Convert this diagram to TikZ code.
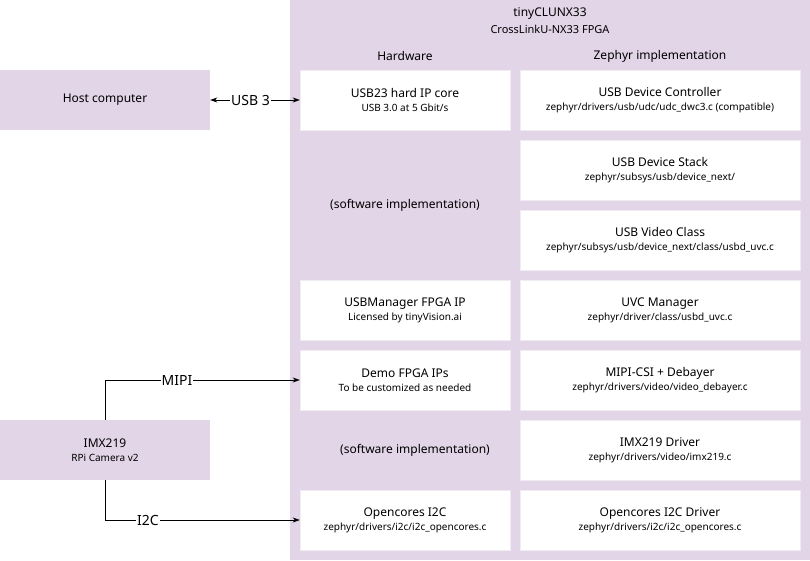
\documentclass[tikz,border=0pt]{standalone}
\usepackage{fontspec}
\setmainfont{Noto Sans}
\usepackage{tikz}
\usetikzlibrary{arrows.meta}
\definecolor{fpgaFill}{HTML}{E1D5E7}
\definecolor{boxEdge}{HTML}{F1EBF4}

\newcommand{\subline}[1]{\\[-1pt]{\fontsize{10}{12}\selectfont #1}}

\begin{document}
\begin{tikzpicture}[x=1pt,y=-1pt,
    hwbox/.style={fill=white,draw=boxEdge,minimum width=210pt,minimum height=60pt,align=center,inner sep=0pt,font=\fontsize{12}{15}\selectfont},
    swbox/.style={hwbox,minimum width=280pt},
    outbox/.style={fill=fpgaFill,minimum width=210pt,minimum height=60pt,align=center,inner sep=0pt,font=\fontsize{12}{15}\selectfont},
    plain/.style={align=center,inner sep=0pt,font=\fontsize{12}{15}\selectfont},
    link/.style={line width=0.8pt,-{Stealth[length=7pt,width=5pt,inset=2pt]}},
    bilink/.style={line width=0.8pt,{Stealth[length=7pt,width=5pt,inset=2pt]}-{Stealth[length=7pt,width=5pt,inset=2pt]}},
    tag/.style={fill=white,inner sep=1pt,font=\fontsize{14}{16}\selectfont}]
    \useasboundingbox (0,0) rectangle (810,560);

    % draw FPGA container
    \node[fill=fpgaFill,minimum width=520pt,minimum height=560pt,inner sep=0pt] (fpga) at (550,280) {};
    \node[plain] (title) at (550,14) {tinyCLUNX33};
    \node[plain,font=\fontsize{11}{13}\selectfont] (subtitle) at (550,29) {CrossLinkU-NX33 FPGA};
    \node[plain] (hwhead) at (405,56) {Hardware};
    \node[plain] (swhead) at (660,56) {Zephyr implementation};

    % draw outside parts
    \node[outbox] (host) at (105,100) {Host computer};
    \node[outbox] (cam) at (105,450) {IMX219\subline{RPi Camera v2}};

    % draw hardware column
    \node[hwbox] (usbip) at (405,100) {USB23 hard IP core\subline{USB 3.0 at 5 Gbit/s}};
    \node[plain] (softa) at (405,205) {(software implementation)};
    \node[hwbox] (usbman) at (405,310) {USBManager FPGA IP\subline{Licensed by tinyVision.ai}};
    \node[hwbox] (demo) at (405,380) {Demo FPGA IPs\subline{To be customized as needed}};
    \node[plain] (softb) at (415,450) {(software implementation)};
    \node[hwbox] (i2cip) at (405,520) {Opencores I2C\subline{zephyr/drivers/i2c/i2c\_opencores.c}};

    % draw zephyr column
    \node[swbox] (udc) at (660,100) {USB Device Controller\subline{zephyr/drivers/usb/udc/udc\_dwc3.c (compatible)}};
    \node[swbox] (stack) at (660,170) {USB Device Stack\subline{zephyr/subsys/usb/device\_next/}};
    \node[swbox] (uvc) at (660,240) {USB Video Class\subline{zephyr/subsys/usb/device\_next/class/usbd\_uvc.c}};
    \node[swbox] (uvcman) at (660,310) {UVC Manager\subline{zephyr/driver/class/usbd\_uvc.c}};
    \node[swbox] (debayer) at (660,380) {MIPI-CSI + Debayer\subline{zephyr/drivers/video/video\_debayer.c}};
    \node[swbox] (imxdrv) at (660,450) {IMX219 Driver\subline{zephyr/drivers/video/imx219.c}};
    \node[swbox] (i2cdrv) at (660,520) {Opencores I2C Driver\subline{zephyr/drivers/i2c/i2c\_opencores.c}};

    % draw links
    \draw[bilink] (host.east) -- node[tag,pos=0.45] {USB 3} (usbip.west);
    \draw[link] (cam.north) |- node[tag,pos=0.685] {MIPI} (demo.west);
    \draw[link] (cam.south) |- node[tag,pos=0.61] {I2C} (i2cip.west);
\end{tikzpicture}
\end{document}
